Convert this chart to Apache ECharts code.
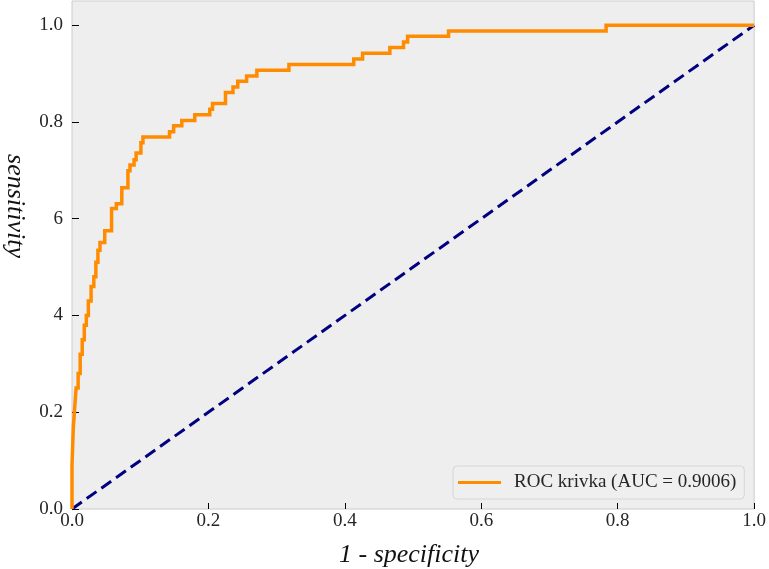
<!DOCTYPE html>
<html>
<head>
<meta charset="utf-8">
<script src="https://cdn.jsdelivr.net/npm/echarts@6/dist/echarts.min.js"></script>
<style>html,body{margin:0;padding:0;background:#fff;}#c{width:769px;height:569px;}</style>
</head>
<body>
<div id="c"></div>
<script>
// ROC curve corner points (false positive rate, true positive rate)
var fpr = [0, 0, 0.002, 0.002, 0.004, 0.004, 0.006, 0.006, 0.009, 0.009, 0.012, 0.012, 0.015, 0.015, 0.018, 0.018, 0.021, 0.021, 0.024, 0.024, 0.028, 0.028, 0.032, 0.032, 0.035, 0.035, 0.038, 0.038, 0.041, 0.041, 0.048, 0.048, 0.058, 0.058, 0.065, 0.065, 0.073, 0.073, 0.082, 0.082, 0.085, 0.085, 0.091, 0.091, 0.094, 0.094, 0.101, 0.101, 0.104, 0.104, 0.143, 0.143, 0.149, 0.149, 0.161, 0.161, 0.180, 0.180, 0.202, 0.202, 0.206, 0.206, 0.225, 0.225, 0.236, 0.236, 0.243, 0.243, 0.256, 0.256, 0.271, 0.271, 0.318, 0.318, 0.413, 0.413, 0.426, 0.426, 0.466, 0.466, 0.486, 0.486, 0.492, 0.492, 0.552, 0.552, 0.783, 0.783, 1.0];
var tpr = [0, 0.09, 0.09, 0.17, 0.17, 0.21, 0.21, 0.25, 0.25, 0.28, 0.28, 0.32, 0.32, 0.35, 0.35, 0.38, 0.38, 0.40, 0.40, 0.43, 0.43, 0.46, 0.46, 0.48, 0.48, 0.51, 0.51, 0.535, 0.535, 0.551, 0.551, 0.575, 0.575, 0.621, 0.621, 0.631, 0.631, 0.664, 0.664, 0.699, 0.699, 0.711, 0.711, 0.722, 0.722, 0.736, 0.736, 0.757, 0.757, 0.769, 0.769, 0.780, 0.780, 0.792, 0.792, 0.803, 0.803, 0.815, 0.815, 0.826, 0.826, 0.838, 0.838, 0.861, 0.861, 0.872, 0.872, 0.884, 0.884, 0.895, 0.895, 0.907, 0.907, 0.919, 0.919, 0.930, 0.930, 0.942, 0.942, 0.954, 0.954, 0.965, 0.965, 0.977, 0.977, 0.988, 0.988, 1.0, 1.0];
// chance diagonal
var diagX = [0, 1];
var diagY = [0, 1];
// tick labels
var xTicks = [0, 0.2, 0.4, 0.6, 0.8, 1.0];
var yTicks = [0, 0.2, 0.4, 0.6, 0.8, 1.0];
var yTickText = ['0.0', '0.2', '4', '6', '0.8', '1.0'];
var legendName = 'ROC krivka (AUC = 0.9006)';
var xTitle = '1 - specificity';
var yTitle = 'sensitivity';

var rocData = fpr.map(function (x, i) { return [x, tpr[i]]; });
var diagData = diagX.map(function (x, i) { return [x, diagY[i]]; });

var FONT = 'Liberation Serif';
var chart = echarts.init(document.getElementById('c'), null, {renderer: 'canvas'});
chart.setOption({
  animation: false,
  grid: {
    left: 72, right: 14, top: 1, bottom: 60,
    show: true, backgroundColor: '#eeeeee', borderColor: '#cccccc', borderWidth: 1
  },
  xAxis: {
    type: 'value', min: 0, max: 1.0, interval: 0.2,
    axisLine: {show: false},
    splitLine: {show: false},
    axisTick: {show: true, inside: true, length: 6, lineStyle: {color: '#000', width: 1}, customValues: xTicks},
    axisLabel: {
      customValues: xTicks, margin: 3,
      fontFamily: FONT, fontSize: 19, color: '#262626',
      formatter: function (v) { return v.toFixed(1); }
    }
  },
  yAxis: {
    type: 'value', min: 0, max: 1.05, interval: 0.2,
    axisLine: {show: false},
    splitLine: {show: false},
    axisTick: {show: true, inside: true, length: 7, lineStyle: {color: '#000', width: 1}, customValues: yTicks},
    axisLabel: {
      customValues: yTicks, margin: 9,
      fontFamily: FONT, fontSize: 19, color: '#262626',
      formatter: function (v) {
        for (var i = 0; i < yTicks.length; i++) { if (Math.abs(yTicks[i] - v) < 1e-6) return yTickText[i]; }
        return '';
      }
    }
  },
  legend: {
    show: true, left: 453, top: 466, orient: 'horizontal',
    padding: [7, 8, 7, 5],
    backgroundColor: '#efefef', borderColor: '#d6d6d6', borderWidth: 1, borderRadius: 4,
    itemWidth: 43, itemHeight: 3, icon: 'rect',
    data: [{name: legendName, icon: 'rect'}],
    textStyle: {fontFamily: FONT, fontSize: 19, color: '#262626', padding: [0, 0, 0, 8]}
  },
  graphic: [
    {
      type: 'text', x: 15, y: 206, rotation: -Math.PI / 2,
      style: {text: yTitle, fontFamily: FONT, fontStyle: 'italic', fontSize: 26, fill: '#111', align: 'center', verticalAlign: 'middle'}
    },
    {
      type: 'text', x: 409, y: 555,
      style: {text: xTitle, fontFamily: FONT, fontStyle: 'italic', fontSize: 26, fill: '#111', align: 'center', verticalAlign: 'middle'}
    }
  ],
  series: [
    {
      name: legendName, type: 'line', data: rocData, symbol: 'none', clip: false,
      lineStyle: {color: '#ff8c00', width: 3.5, join: 'miter'}, itemStyle: {color: '#ff8c00'}, z: 3
    },
    {
      name: 'diag', type: 'line', data: diagData, symbol: 'none', clip: false,
      lineStyle: {color: '#000080', width: 3, type: [12, 6], cap: 'butt'}, z: 2
    }
  ]
});
</script>
</body>
</html>
